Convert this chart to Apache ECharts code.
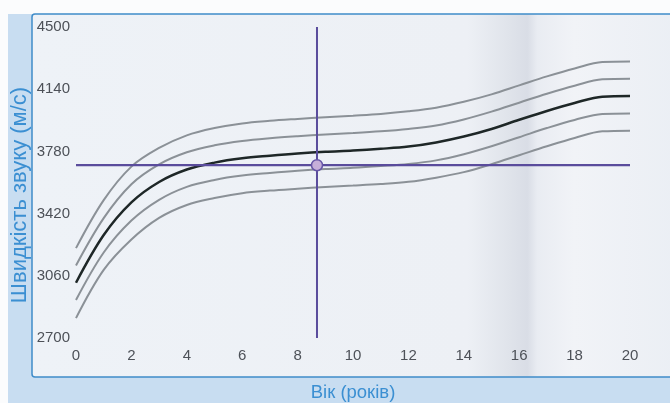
<!DOCTYPE html>
<html>
<head>
<meta charset="utf-8">
<script src="https://cdn.jsdelivr.net/npm/echarts@6/dist/echarts.min.js"></script>
<style>
  html, body { margin: 0; padding: 0; background: #fbfcfd; }
  #main { width: 670px; height: 403px; }
</style>
</head>
<body>
<div id="main"></div>
<script>
// вік (роки)
var ages = [0, 1, 2, 3, 4, 5, 6, 7, 8, 9, 10, 11, 12, 13, 14, 15, 16, 17, 18, 19, 20];

// швидкість звуку, м/с
var upper2 = [3220, 3498, 3692, 3800, 3873, 3915, 3942, 3957, 3968, 3978, 3987, 3997, 4012, 4033, 4067, 4110, 4162, 4214, 4260, 4297, 4300];
var upper1 = [3120, 3394, 3590, 3705, 3775, 3815, 3840, 3856, 3868, 3878, 3886, 3896, 3910, 3930, 3965, 4010, 4062, 4114, 4160, 4197, 4200];
var median = [3020, 3296, 3485, 3603, 3675, 3715, 3740, 3755, 3768, 3778, 3785, 3795, 3808, 3832, 3866, 3910, 3963, 4014, 4060, 4097, 4100];
var lower1 = [2920, 3195, 3380, 3500, 3575, 3615, 3640, 3655, 3668, 3678, 3685, 3695, 3707, 3728, 3764, 3810, 3862, 3915, 3962, 3997, 4000];
var lower2 = [2815, 3094, 3270, 3395, 3470, 3510, 3538, 3553, 3564, 3574, 3582, 3591, 3604, 3628, 3660, 3706, 3758, 3810, 3858, 3896, 3900];

// точка перетину
var crossAge = 8.7;
var crossSpeed = 3700;

var xTicks = { min: 0, max: 20, step: 2 };
var yTicks = { min: 2700, max: 4500, step: 360 };

function pairs(vals) {
    return ages.map(function (a, i) { return [a, vals[i]]; });
}

var myChart = echarts.init(document.getElementById('main'));

var grayLine = { color: '#8b9197', width: 2 };
var font = 'Liberation Sans, Arial, sans-serif';

var option = {
    backgroundColor: '#fbfcfd',
    animation: false,
    grid: { left: 76, right: 40, top: 27, bottom: 65, outerBoundsMode: 'none', containLabel: false },
    graphic: [
        // голуба смуга зліва і знизу
        { type: 'rect', z: -10, shape: { x: 8, y: 14, width: 30, height: 389 }, style: { fill: '#c8ddf1' } },
        { type: 'rect', z: -10, shape: { x: 8, y: 370, width: 662, height: 33 }, style: { fill: '#c8ddf1' } },
        // рамка графіка
        {
            type: 'rect', z: -9,
            shape: { x: 32, y: 14, width: 660, height: 363, r: 3 },
            style: {
                fill: new echarts.graphic.LinearGradient(0, 0, 1, 0, [
                    { offset: 0, color: '#eef2f7' },
                    { offset: 0.66, color: '#edf0f5' },
                    { offset: 0.72, color: '#e0e4eb' },
                    { offset: 0.75, color: '#d9dde6' },
                    { offset: 0.765, color: '#e9ecf2' },
                    { offset: 0.82, color: '#f1f3f7' },
                    { offset: 1, color: '#eaeef4' }
                ]),
                stroke: '#3f8cc9',
                lineWidth: 1.5
            }
        },
        {
            type: 'text', z: 5,
            x: 20, y: 195, rotation: Math.PI / 2,
            style: {
                text: 'Швидкість звуку (м/с)',
                fill: '#3b8fd2',
                font: '22px ' + font,
                align: 'center',
                verticalAlign: 'middle'
            }
        }
    ],
    xAxis: {
        type: 'value',
        min: xTicks.min, max: xTicks.max, interval: xTicks.step,
        name: 'Вік (років)',
        nameLocation: 'middle',
        nameGap: 45,
        nameTextStyle: { color: '#3b8fd2', fontSize: 18.5, fontFamily: font },
        axisLine: { show: false },
        axisTick: { show: false },
        splitLine: { show: false },
        axisLabel: { color: '#4d5158', fontSize: 15, fontFamily: font, margin: 10 }
    },
    yAxis: {
        type: 'value',
        min: yTicks.min, max: yTicks.max, interval: yTicks.step,
        axisLine: { show: false },
        axisTick: { show: false },
        splitLine: { show: false },
        axisLabel: {
            color: '#4d5158', fontSize: 15, fontFamily: font, margin: 6,
            formatter: function (v) { return String(v); }
        }
    },
    series: [
        { type: 'line', data: pairs(upper2), smooth: 0.35, symbol: 'none', lineStyle: grayLine },
        { type: 'line', data: pairs(upper1), smooth: 0.35, symbol: 'none', lineStyle: grayLine },
        { type: 'line', data: pairs(lower1), smooth: 0.35, symbol: 'none', lineStyle: grayLine },
        { type: 'line', data: pairs(lower2), smooth: 0.35, symbol: 'none', lineStyle: grayLine },
        { type: 'line', data: pairs(median), smooth: 0.35, symbol: 'none', lineStyle: { color: '#1e2727', width: 2.5 } },
        // перехрестя
        {
            type: 'line', symbol: 'none', z: 5,
            data: [[crossAge, yTicks.min], [crossAge, yTicks.max]],
            lineStyle: { color: '#5a4c9c', width: 2 }
        },
        {
            type: 'line', symbol: 'none', z: 5,
            data: [[xTicks.min, crossSpeed], [xTicks.max, crossSpeed]],
            lineStyle: { color: '#5a4c9c', width: 2.2 }
        },
        {
            type: 'scatter', z: 6,
            data: [[crossAge, crossSpeed]],
            symbolSize: 11,
            itemStyle: { color: '#c6afd9', borderColor: '#6656a6', borderWidth: 1.5, opacity: 1 }
        }
    ]
};

myChart.setOption(option);
</script>
</body>
</html>
